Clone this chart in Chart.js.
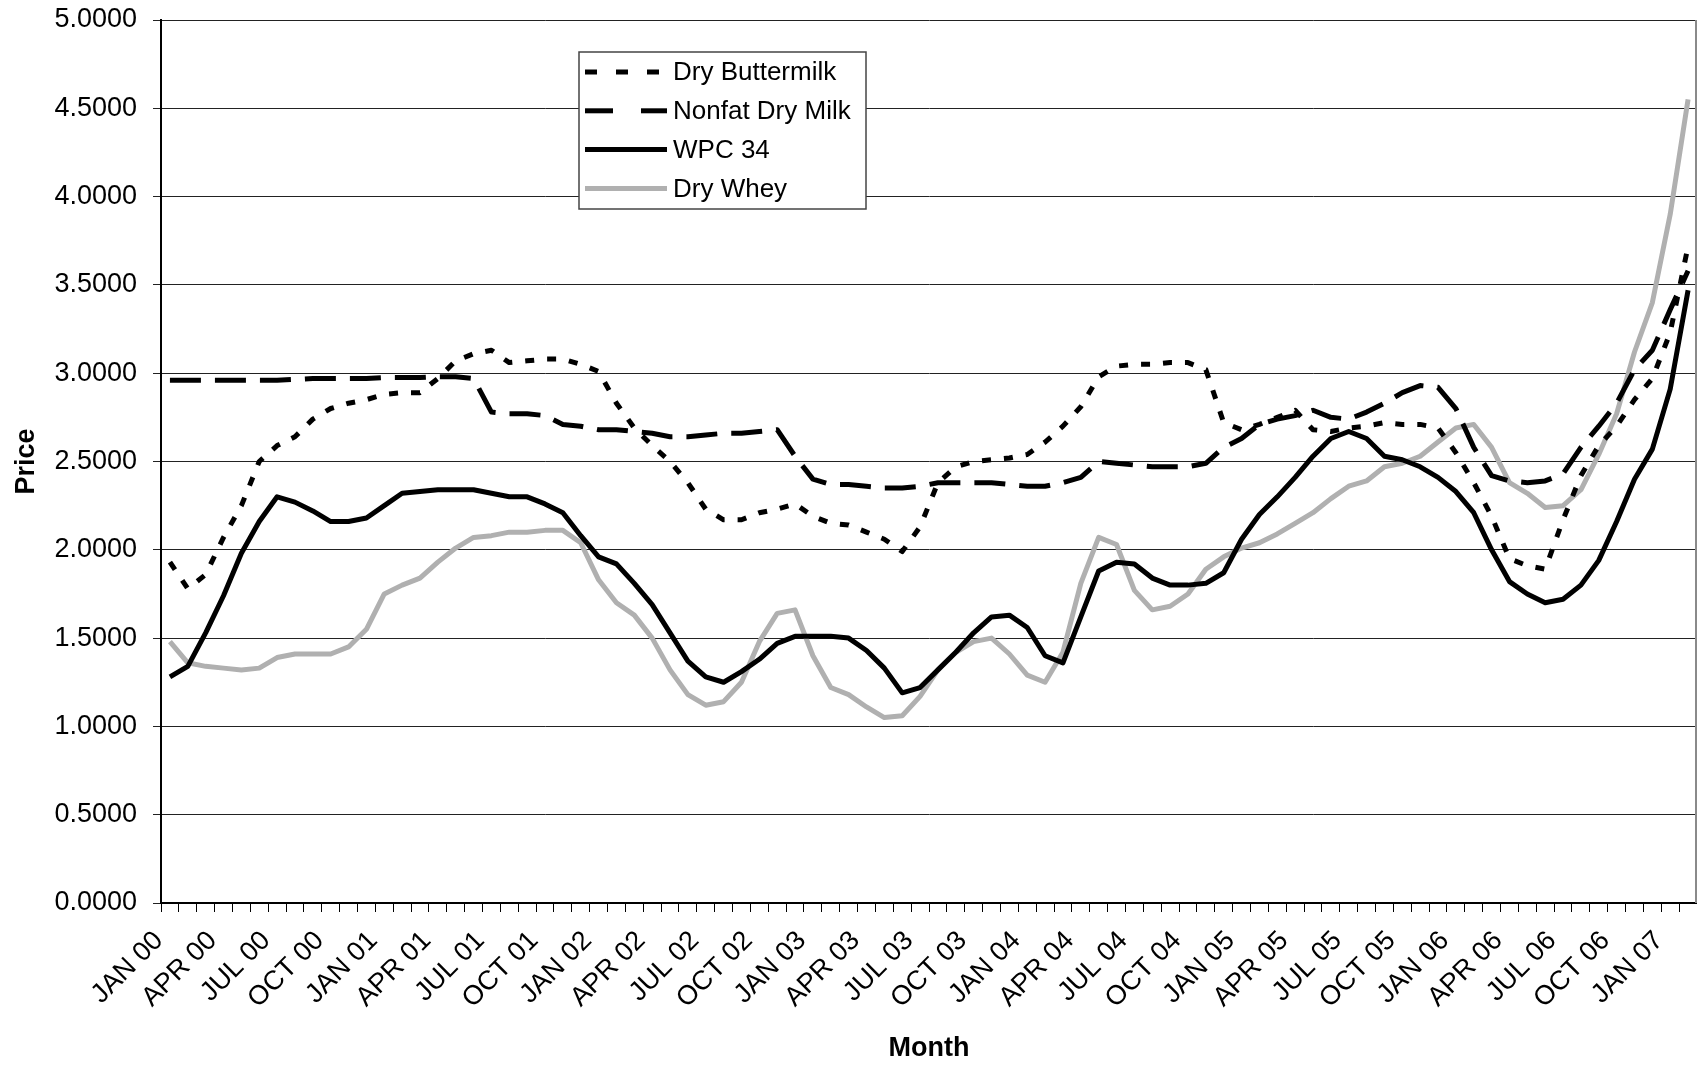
<!DOCTYPE html>
<html>
<head>
<meta charset="utf-8">
<script src="https://cdn.jsdelivr.net/npm/chart.js@4.4.1/dist/chart.umd.min.js"></script>
<style>
  html, body { margin: 0; padding: 0; background: #fff; }
  #wrap { width: 1697px; height: 1065px; position: relative; }
</style>
</head>
<body>
<div id="wrap"><canvas id="price-chart"></canvas></div>
<script>
// categorias: JAN 00 .. FEB 07
const monthNames = ['JAN','FEB','MAR','APR','MAY','JUN','JUL','AUG','SEP','OCT','NOV','DEC'];
const years = ['00','01','02','03','04','05','06','07'];
const months = [];
years.forEach((yy, k) => {
  monthNames.forEach((mm, m) => {
    if (k === 7 && m > 1) return;
    months.push(mm + ' ' + yy);
  });
});

// series
const dryButtermilk = [
  1.93, 1.78, 1.86, 2.07, 2.25, 2.50, 2.59, 2.64, 2.74, 2.80, 2.83, 2.85,
  2.88, 2.89, 2.89, 2.97, 3.07, 3.11, 3.13, 3.06, 3.07, 3.08, 3.08, 3.05,
  3.01, 2.83, 2.69, 2.59, 2.50, 2.38, 2.23, 2.17, 2.17, 2.21, 2.23, 2.26,
  2.19, 2.15, 2.14, 2.10, 2.06, 1.99, 2.13, 2.38, 2.47, 2.50, 2.51, 2.52,
  2.54, 2.61, 2.70, 2.81, 2.98, 3.04, 3.05, 3.05, 3.06, 3.06, 3.02, 2.72,
  2.68, 2.71, 2.75, 2.79, 2.68, 2.67, 2.69, 2.70, 2.72, 2.71, 2.71, 2.69,
  2.55, 2.38, 2.19, 1.95, 1.91, 1.89, 2.17, 2.42, 2.59, 2.70, 2.85, 2.97,
  3.23, 3.72
];
const nonfatDryMilk = [
  2.96, 2.96, 2.96, 2.96, 2.96, 2.96, 2.96, 2.965, 2.97, 2.97, 2.97, 2.97,
  2.975, 2.975, 2.975, 2.98, 2.98, 2.97, 2.78, 2.77, 2.77, 2.76, 2.71, 2.70,
  2.68, 2.68, 2.67, 2.66, 2.64, 2.64, 2.65, 2.66, 2.66, 2.67, 2.68, 2.53,
  2.40, 2.37, 2.37, 2.36, 2.35, 2.35, 2.36, 2.38, 2.38, 2.38, 2.38, 2.37,
  2.36, 2.36, 2.38, 2.41, 2.50, 2.49, 2.48, 2.47, 2.47, 2.47, 2.49, 2.58,
  2.63, 2.71, 2.74, 2.76, 2.79, 2.75, 2.74, 2.78, 2.83, 2.89, 2.93, 2.92,
  2.80, 2.58, 2.42, 2.39, 2.38, 2.39, 2.43, 2.58, 2.70, 2.83, 3.02, 3.13,
  3.36, 3.58
];
const wpc34 = [
  1.28, 1.34, 1.53, 1.74, 1.98, 2.16, 2.30, 2.27, 2.22, 2.16, 2.16, 2.18,
  2.25, 2.32, 2.33, 2.34, 2.34, 2.34, 2.32, 2.30, 2.30, 2.26, 2.21, 2.08,
  1.96, 1.92, 1.81, 1.69, 1.53, 1.37, 1.28, 1.25, 1.31, 1.38, 1.47, 1.51,
  1.51, 1.51, 1.50, 1.43, 1.33, 1.19, 1.22, 1.32, 1.42, 1.53, 1.62, 1.63,
  1.56, 1.40, 1.36, 1.62, 1.88, 1.93, 1.92, 1.84, 1.80, 1.80, 1.81, 1.87,
  2.06, 2.20, 2.30, 2.41, 2.53, 2.63, 2.67, 2.63, 2.53, 2.51, 2.47, 2.41,
  2.33, 2.21, 2.00, 1.82, 1.75, 1.70, 1.72, 1.80, 1.94, 2.16, 2.40, 2.57,
  2.91, 3.47
];
const dryWhey = [
  1.48, 1.36, 1.34, 1.33, 1.32, 1.33, 1.39, 1.41, 1.41, 1.41, 1.45, 1.55,
  1.75, 1.80, 1.84, 1.93, 2.01, 2.07, 2.08, 2.10, 2.10, 2.11, 2.11, 2.04,
  1.83, 1.70, 1.63, 1.50, 1.32, 1.18, 1.12, 1.14, 1.25, 1.48, 1.64, 1.66,
  1.40, 1.22, 1.18, 1.11, 1.05, 1.06, 1.17, 1.32, 1.42, 1.48, 1.50, 1.41,
  1.29, 1.25, 1.42, 1.81, 2.07, 2.03, 1.77, 1.66, 1.68, 1.75, 1.89, 1.96,
  2.01, 2.04, 2.09, 2.15, 2.21, 2.29, 2.36, 2.39, 2.47, 2.49, 2.53, 2.61,
  2.69, 2.71, 2.58, 2.38, 2.32, 2.24, 2.25, 2.34, 2.54, 2.77, 3.12, 3.40,
  3.90, 4.55
];

const FONT = '"Liberation Sans", Arial, sans-serif';

// leyenda con recuadro dentro del area del grafico
const legendBox = {
  id: 'legendBox',
  afterDatasetsDraw(chart) {
    const ctx = chart.ctx;
    const area = chart.chartArea;
    ctx.save();
    // borde derecho del area
    ctx.strokeStyle = '#8a8a8a';
    ctx.lineWidth = 2;
    ctx.beginPath();
    ctx.moveTo(area.right - 1, area.top);
    ctx.lineTo(area.right - 1, area.bottom);
    ctx.stroke();

    const bx = 579, by = 52, bw = 287, bh = 157;
    ctx.fillStyle = '#fff';
    ctx.fillRect(bx, by, bw, bh);
    ctx.strokeStyle = '#444';
    ctx.lineWidth = 1.5;
    ctx.strokeRect(bx, by, bw, bh);
    chart.data.datasets.forEach((ds, i) => {
      const ry = 72 + i * 38.8;
      ctx.beginPath();
      ctx.setLineDash(ds.legendDash || []);
      ctx.strokeStyle = ds.borderColor;
      ctx.lineWidth = ds.borderWidth;
      ctx.moveTo(585, ry);
      ctx.lineTo(667, ry);
      ctx.stroke();
      ctx.setLineDash([]);
      ctx.fillStyle = '#000';
      ctx.font = '26px ' + FONT;
      ctx.textBaseline = 'middle';
      ctx.textAlign = 'left';
      ctx.fillText(ds.label, 673, ry + 1);
    });
    ctx.restore();
  }
};

// sin relleno extra de las escalas
const noPad = (scale) => {
  scale.paddingLeft = 0;
  scale.paddingRight = 0;
  scale.paddingTop = 0;
  scale.paddingBottom = 0;
};

const dataForChart = {
  labels: months,
  datasets: [
    {
      label: 'Dry Buttermilk',
      data: dryButtermilk,
      borderColor: '#000',
      borderWidth: 5,
      borderDash: [9, 13],
      legendDash: [12, 19],
      borderCapStyle: 'butt',
    },
    {
      label: 'Nonfat Dry Milk',
      data: nonfatDryMilk,
      borderColor: '#000',
      borderWidth: 5,
      borderDash: [31, 14],
      legendDash: [28, 28],
      borderCapStyle: 'butt',
    },
    {
      label: 'WPC 34',
      data: wpc34,
      borderColor: '#000',
      borderWidth: 5,
    },
    {
      label: 'Dry Whey',
      data: dryWhey,
      borderColor: '#b0b0b0',
      borderWidth: 5,
    },
  ],
};

const configLine = {
  type: 'line',
  data: dataForChart,
  options: {
    responsive: true,
    maintainAspectRatio: false,
    animation: false,
    layout: { autoPadding: false, padding: { top: 20, right: 0, left: 0, bottom: 0 } },
    elements: { point: { radius: 0 }, line: { tension: 0, borderJoinStyle: 'round' } },
    plugins: { legend: { display: false }, tooltip: { enabled: false } },
    scales: {
      x: {
        offset: true,
        grid: { offset: true, drawOnChartArea: false, drawTicks: true, tickLength: 9, color: '#000', lineWidth: 1 },
        border: { color: '#000', width: 2 },
        ticks: {
          autoSkip: false,
          minRotation: 45,
          maxRotation: 45,
          padding: 13,
          labelOffset: -11,
          color: '#000',
          font: { family: FONT, size: 27 },
          callback: (v, i) => (i % 3 === 0 ? months[i] : ''),
        },
        title: { display: true, text: 'Month', color: '#000', font: { family: FONT, size: 27, weight: 'bold' }, padding: { top: 2, bottom: 0 } },
        afterFit: (scale) => { scale.height = 162; noPad(scale); },
      },
      y: {
        min: 0,
        max: 5,
        grid: { color: '#222', lineWidth: 1, tickLength: 8 },
        border: { color: '#000', width: 2 },
        ticks: {
          stepSize: 0.5,
          padding: 16,
          color: '#000',
          font: { family: FONT, size: 27 },
          callback: (v) => v.toFixed(4),
        },
        title: { display: true, text: 'Price', color: '#000', font: { family: FONT, size: 27, weight: 'bold' }, padding: { top: 10, bottom: 4 } },
        afterFit: (scale) => { scale.width = 161; noPad(scale); },
      },
    },
  },
  plugins: [legendBox],
};

const priceChart = new Chart(document.querySelector('#price-chart').getContext('2d'), configLine);
</script>
</body>
</html>
